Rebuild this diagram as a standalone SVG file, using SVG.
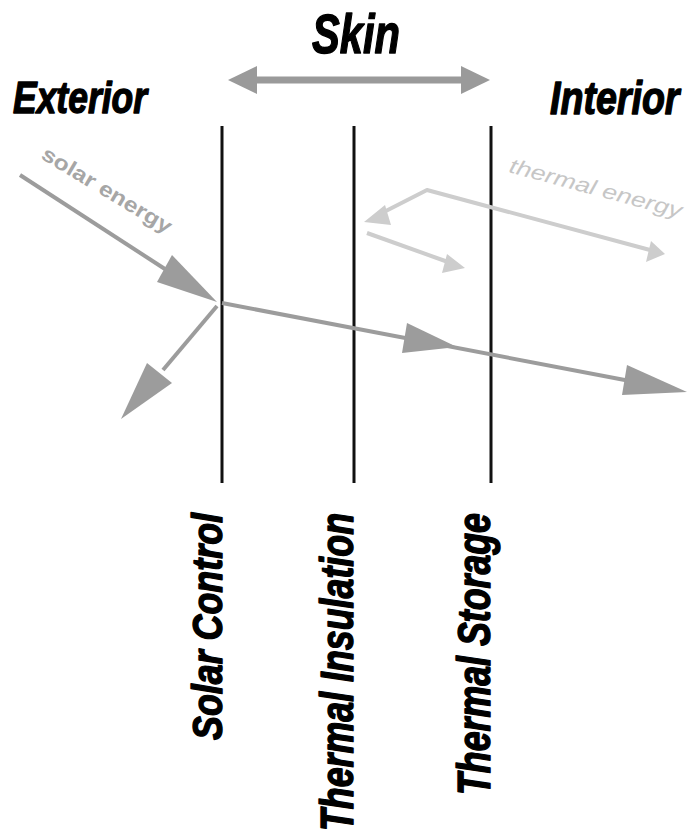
<svg xmlns="http://www.w3.org/2000/svg" width="697" height="838" viewBox="0 0 697 838">
  <style>
    .head { font-family: "Liberation Sans", "DejaVu Sans", Arial, sans-serif; font-weight: bold; font-style: italic; fill: #000; stroke: #000; stroke-width: 1.4; stroke-linejoin: round; }
    .layer { stroke: #111; stroke-width: 3; fill: none; }
    .solar { stroke: #9c9c9c; stroke-width: 4; fill: none; }
    .solarhead { fill: #9c9c9c; }
    .skin { stroke: #9a9a9a; stroke-width: 7; fill: none; }
    .skinhead { fill: #9a9a9a; }
    .therm { stroke: #cdcdcd; stroke-width: 4; fill: none; stroke-linejoin: round; }
    .thermhead { fill: #cdcdcd; }
    .lbl { font-family: "Liberation Sans", "DejaVu Sans", Arial, sans-serif; }
  </style>
  <rect width="697" height="838" fill="#ffffff"/>

  <g id="title-skin">
    <text class="head" x="312" y="53" font-size="56" textLength="88" lengthAdjust="spacingAndGlyphs">Skin</text>
  </g>
  <g id="label-exterior">
    <text class="head" x="13" y="113" font-size="45" textLength="134" lengthAdjust="spacingAndGlyphs">Exterior</text>
  </g>
  <g id="label-interior">
    <text class="head" transform="translate(550,114) scale(0.8,1)" x="0" y="0" font-size="47">Interior</text>
  </g>

  <g id="layer-solar-control">
    <line class="layer" x1="222" y1="126" x2="222" y2="483"/>
    <text class="head" transform="translate(222,513) rotate(-90)" text-anchor="end" font-size="43" textLength="227" lengthAdjust="spacingAndGlyphs">Solar Control</text>
  </g>
  <g id="layer-thermal-insulation">
    <line class="layer" x1="354" y1="126" x2="354" y2="483"/>
    <text class="head" transform="translate(353,513) rotate(-90)" text-anchor="end" font-size="46" textLength="318" lengthAdjust="spacingAndGlyphs">Thermal Insulation</text>
  </g>
  <g id="layer-thermal-storage">
    <line class="layer" x1="491" y1="126" x2="491" y2="483"/>
    <text class="head" transform="translate(490,513) rotate(-90)" text-anchor="end" font-size="46" textLength="282" lengthAdjust="spacingAndGlyphs">Thermal Storage</text>
  </g>

  <g id="connectors">
    <!-- Skin double arrow -->
    <line class="skin" x1="252" y1="80" x2="466" y2="80"/>
    <polygon class="skinhead" points="228,80 257,66 257,94"/>
    <polygon class="skinhead" points="490,80 461,66 461,94"/>

    <!-- incoming solar energy -->
    <line class="solar" x1="20" y1="175" x2="168" y2="271"/>
    <polygon class="solarhead" points="217,302 172,255 157,282"/>

    <!-- reflected -->
    <line class="solar" x1="217" y1="306" x2="163" y2="370"/>
    <polygon class="solarhead" points="121,419 147,363 172,383"/>

    <!-- transmitted -->
    <line class="solar" x1="222" y1="303" x2="630" y2="381"/>
    <polygon class="solarhead" points="457,347 407,323 402,353"/>
    <polygon class="solarhead" points="687,392 627,365 622,395"/>

    <!-- thermal energy arrows -->
    <polyline class="therm" points="378,215 427,190 650,250"/>
    <polygon class="thermhead" points="364,222 385,205 391,225"/>
    <polygon class="thermhead" points="665,254 651,241 646,262"/>
    <line class="therm" x1="367" y1="233" x2="448" y2="262"/>
    <polygon class="thermhead" points="465,268 447,254 442,273"/>
  </g>

  <g id="label-solar-energy">
    <text class="lbl" transform="translate(40,158) rotate(31)" font-size="21" font-weight="bold" fill="#a6a6a6" textLength="148" lengthAdjust="spacingAndGlyphs">solar energy</text>
  </g>
  <g id="label-thermal-energy">
    <text class="lbl" transform="translate(508,172) rotate(15)" font-size="21" font-style="italic" fill="#c6c6c6" textLength="178" lengthAdjust="spacingAndGlyphs">thermal energy</text>
  </g>
</svg>
